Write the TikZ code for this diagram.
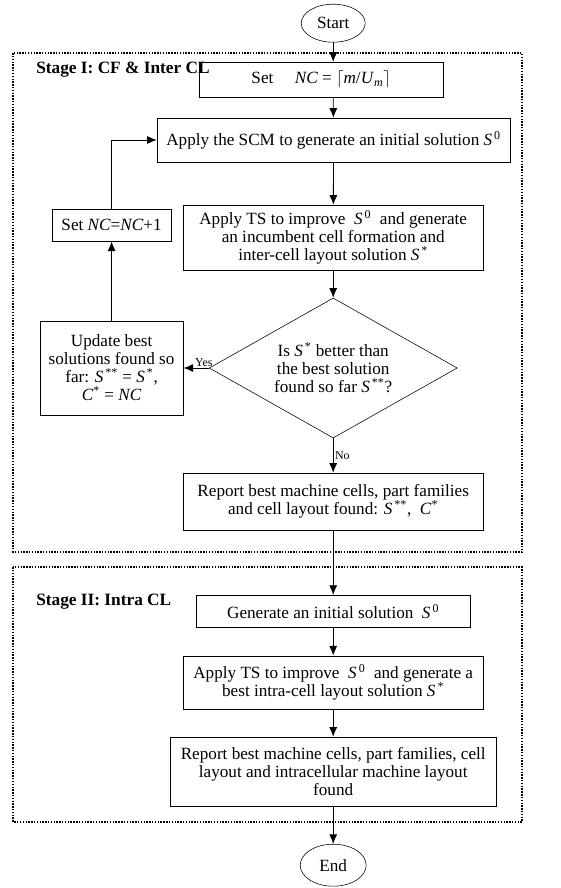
\documentclass[tikz,border=0pt]{standalone}
\usepackage{fontspec}
\setmainfont{Liberation Serif}
\usetikzlibrary{arrows.meta,positioning,shapes.geometric}
\newcommand{\sol}[1]{\textit{S}\textsuperscript{\,#1}}
\tikzset{box/.style={draw,thin,align=center,font=\fontsize{12.2}{12.8}\selectfont,inner sep=2pt},
term/.style={ellipse,draw,thin,font=\fontsize{12.2}{12.8}\selectfont,inner sep=1pt},
decision/.style={diamond,aspect=1.77,draw,thin,align=center,font=\fontsize{12.2}{12.8}\selectfont,inner sep=0pt},
stage/.style={draw,line width=1.3pt,dash pattern=on 1pt off 1pt},
arr/.style={-{Latex[length=2.4mm,width=2mm]},semithick},lbl/.style={font=\fontsize{8.5}{9}\selectfont,inner sep=1pt}}
\begin{document}
\begin{tikzpicture}[x=1cm,y=1cm]
\useasboundingbox (0,0) rectangle (14,-22.2);
\draw[stage](0.33,-1.33) rectangle (13.05,-13.8);\draw[stage](0.33,-14.18) rectangle (13.05,-20.55);
\node[anchor=west,inner sep=0pt,font=\fontsize{12.3}{13}\selectfont\bfseries] at (0.9,-1.75){Stage I: CF \& Inter CL};
\node[anchor=west,inner sep=0pt,font=\fontsize{12.3}{13}\selectfont\bfseries] at (0.9,-15.05){Stage II: Intra CL};
\node[term,minimum width=1.6cm,minimum height=0.95cm] (start) at (8.33,-0.58){Start};
\node[box,minimum width=6.1cm,minimum height=0.875cm] (setnc) at (8.03,-1.99){Set \quad\textit{NC} = $\lceil$\textit{m}/\textit{U}\textsubscript{\textit{m}}$\rceil$};
\node[box,minimum width=8.83cm,minimum height=1.1cm] (scm) at (8.34,-3.5){Apply the SCM to generate an initial solution \sol{0}};
\node[box,minimum width=7.5cm,minimum height=1.63cm] (ts) at (8.33,-5.94){Apply TS to improve \ \sol{0} \ and generate\\an incumbent cell formation and\\inter-cell layout solution \sol{*}};
\node[box,minimum width=2.98cm,minimum height=0.8cm] (inc) at (2.79,-5.63){Set \textit{NC}=\textit{NC}+1};
\node[decision,minimum width=6.2cm,minimum height=3.5cm] (dec) at (8.33,-9.2){Is \sol{*} better than\\the best solution\\found so far \sol{**}?};
\node[box,minimum width=3.58cm,minimum height=2.35cm] (upd) at (2.79,-9.2){Update best\\solutions found so\\far: \sol{**} = \sol{*},\\\textit{C}\textsuperscript{*} = \textit{NC}};
\node[box,minimum width=7.5cm,minimum height=1.43cm] (rep) at (8.33,-12.54){Report best machine cells, part families\\and cell layout found: \sol{**}, \ \textit{C}\textsuperscript{*}};
\node[box,minimum width=6.85cm,minimum height=0.8cm] (gen) at (8.33,-15.28){Generate an initial solution \ \sol{0}};
\node[box,minimum width=7.5cm,minimum height=1.33cm] (ts2) at (8.33,-17.06){Apply TS to improve \ \sol{0} \ and generate a\\best intra-cell layout solution \sol{*}};
\node[box,minimum width=8.15cm,minimum height=1.73cm] (rep2) at (8.33,-19.29){Report best machine cells, part families, cell\\layout and intracellular machine layout\\found};
\node[term,minimum width=1.65cm,minimum height=1.05cm] (end) at (8.33,-21.63){End};
\draw[arr](start)--(start|-setnc.north);\draw[arr](start|-setnc.south)--(scm);\draw[arr](scm)--(ts);\draw[arr](ts)--(dec);
\draw[arr](dec)--node[lbl,above,pos=0.2]{Yes}(upd);\draw[arr](upd)--(inc);\draw[arr](inc.north)|-(scm.west);
\draw[arr](dec)--node[lbl,right]{No}(rep);\draw[arr](rep)--(gen);\draw[arr](gen)--(ts2);\draw[arr](ts2)--(rep2);\draw[arr](rep2)--(end);
\end{tikzpicture}
\end{document}
